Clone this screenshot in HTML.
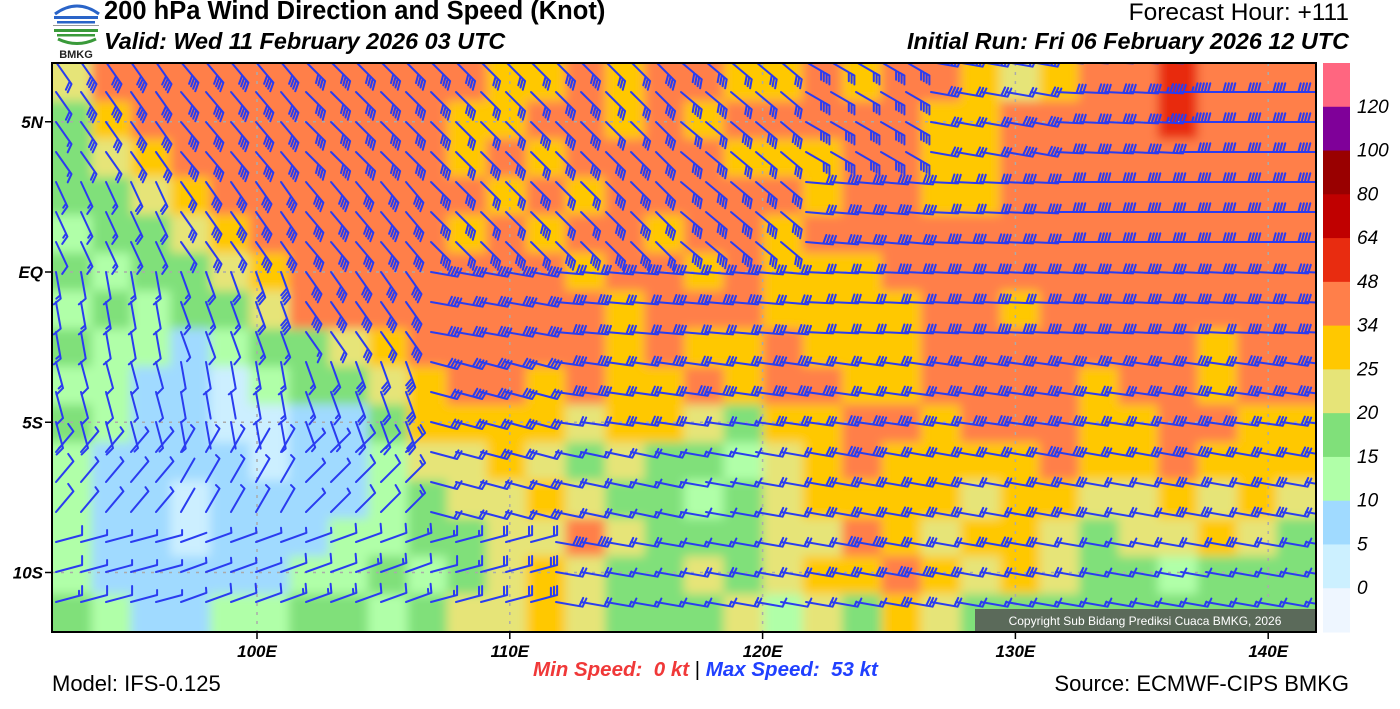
<!DOCTYPE html>
<html><head><meta charset="utf-8">
<style>
html,body{margin:0;padding:0;background:#fff;}
body{width:1400px;height:709px;position:relative;overflow:hidden;font-family:"Liberation Sans",sans-serif;}
.t{position:absolute;white-space:nowrap;color:#000;}
</style></head>
<body>
<svg id="chart" width="1400" height="709" viewBox="0 0 1400 709" style="position:absolute;left:0;top:0">
  <defs>
    <clipPath id="mapclip"><rect x="52" y="63" width="1264" height="569"/></clipPath>
    <filter id="soft" x="-5%" y="-5%" width="110%" height="110%"><feGaussianBlur stdDeviation="5"/></filter>
  </defs>
  <g>
    <path d="M55 14 Q77 -2 99 14" stroke="#2a64c8" stroke-width="3" fill="none"/>
    <rect x="54" y="16" width="44" height="3" fill="#2a64c8"/>
    <rect x="57" y="21" width="38" height="2.5" fill="#2a64c8"/>
    <rect x="53" y="25" width="46" height="1" fill="#999"/>
    <rect x="54" y="29" width="44" height="3" fill="#3a9a3a"/>
    <rect x="57" y="34" width="38" height="2.5" fill="#3a9a3a"/>
    <path d="M58 39 Q77 48 96 39" stroke="#3a9a3a" stroke-width="3" fill="none"/>
    <text x="76" y="58" font-size="11" font-weight="bold" text-anchor="middle" fill="#222" font-family="Liberation Sans, sans-serif">BMKG</text>
  </g>
  <g clip-path="url(#mapclip)">
    <rect x="52" y="63" width="1264" height="569" fill="#ff7f4a"/>
    <g id="field" filter="url(#soft)"></g>
    <g id="grid"></g>
    <g id="barbs"></g>
    <g>
      <rect x="975" y="609" width="341" height="23" fill="#555" fill-opacity="0.85"/>
      <text x="1145" y="625" font-size="12" fill="#fff" text-anchor="middle" font-family="Liberation Sans, sans-serif">Copyright Sub Bidang Prediksi Cuaca BMKG, 2026</text>
    </g>
  </g>
  <rect x="52" y="63" width="1264" height="569" fill="none" stroke="#000" stroke-width="2"/>
  <g id="axes"></g>
  <g id="cbar"></g>
</svg>

<div class="t" style="left:104px;top:-3px;font-size:25.5px;font-weight:bold;">200 hPa Wind Direction and Speed (Knot)</div>
<div class="t" style="left:104px;top:28px;font-size:23.4px;font-weight:bold;font-style:italic;">Valid: Wed 11 February 2026 03 UTC</div>
<div class="t" style="right:51px;top:-1px;font-size:24.5px;">Forecast Hour: +111</div>
<div class="t" style="right:51px;top:28px;font-size:23.4px;font-weight:bold;font-style:italic;">Initial Run: Fri 06 February 2026 12 UTC</div>
<div class="t" style="left:52px;top:671px;font-size:22px;">Model: IFS-0.125</div>
<div class="t" style="right:51px;top:671px;font-size:22px;">Source: ECMWF-CIPS BMKG</div>
<div class="t" style="left:533px;top:658px;font-size:20.5px;font-weight:bold;font-style:italic;">
  <span style="color:#f03838;">Min Speed:&nbsp;&nbsp;0 kt</span>
  <span style="color:#000;font-style:normal;font-weight:normal;">|</span>
  <span style="color:#2040ff;">Max Speed:&nbsp;&nbsp;53 kt</span>
</div>

<script>
// ---- data ----
const speedCats = "abcdefgh";
const catSpeeds = [3, 8, 12, 17, 22, 30, 40, 55];
const catColors = ["#ccefff","#a0daff","#b0ffa8","#80e07a","#e6e478","#ffc800","#ff7f4a","#e82c10"];
const fieldRows = [
 "eggggggggggffgfggffgfggfefgghggg",
 "dfggggggggffggfgfgggggffgggghggg",
 "defgggggggfgfggggfffggffgggggggg",
 "ddefgggggggfgfgggggfggffgggggggg",
 "cddefgggggfgfggfggfggggggggggggg",
 "dcddefgggggggfggfgfffggggggggggg",
 "cdcddeggggggggfgggffffggfggggggg",
 "dccbcddefgggggfgffgfffgggggggfgg",
 "ccbbacddefggfgffgfggffggggfggfgg",
 "dcbbaabbdffffeffedffggfgggffggff",
 "cbbbbabbceefededdcefgffffgffgfff",
 "cbbabbbbcdeefeddcdeffffeffeefefe",
 "cbbabbbccddeegedddeegfeffedeefed",
 "cbbbbbccdcdefeddedeffgfefeddcddd",
 "dcbbccddcdeefedddecedfeddddddddd"
];
const dirAngles = [
 [55, 50, 45, 45, 45, 40, 30, 10, 3, 0],
 [65, 55, 50, 45, 45, 40, 5, 3, 0, 0],
 [80, 70, 55, 10, 5, 5, 3, 3, 3, 3],
 [75, 80, 70, 15, 8, 8, 8, 8, 8, 8],
 [-50, -60, -45, 15, 12, 10, 10, 10, 10, 10],
 [-15, -20, -20, -15, 10, 10, 10, 10, 10, 10]
];
const latLabels = ["5N", "EQ", "5S", "10S"];
const latValues = [5, 0, -5, -10];
const lonLabels = ["100E", "110E", "120E", "130E", "140E"];
const lonValues = [100, 110, 120, 130, 140];
const cbarLabels = ["120","100","80","64","48","34","25","20","15","10","5","0"];
const cbarColors = ["#ff6680","#7f0099","#990000","#c00000","#e82c10","#ff7f4a","#ffc800","#e6e478","#80e07a","#b0ffa8","#a0daff","#ccf0ff","#eef6ff"];

// ---- axes functions ----
const X0 = 52, X1 = 1316, Y0 = 63, Y1 = 632;
const lonToX = lon => 257 + (lon - 100) * 25.28;
const latToY = lat => 272 - lat * 30.05;
const NS = "http://www.w3.org/2000/svg";
function mk(tag, attrs, parent) {
  const e = document.createElementNS(NS, tag);
  for (const k in attrs) e.setAttribute(k, attrs[k]);
  parent.appendChild(e);
  return e;
}

// ---- speed field ----
const field = document.getElementById('field');
const nR = fieldRows.length, nC = 32;
const cw = (X1 - X0) / nC, ch = (Y1 - Y0) / nR;
fieldRows.forEach((row, r) => {
  for (let c = 0; c < nC; c++) {
    const k = speedCats.indexOf(row[c]);
    let x = X0 + c * cw, y = Y0 + r * ch, w = cw + 1, h = ch + 1;
    if (c === 0) { x -= 20; w += 20; }
    if (c === nC - 1) { w += 20; }
    if (r === 0) { y -= 20; h += 20; }
    if (r === nR - 1) { h += 20; }
    const rc = mk('rect', {x: x, y: y, width: w, height: h, fill: catColors[k]}, field);
    
    
  }
});

// ---- graticule ----
const grid = document.getElementById('grid');
lonValues.forEach(v => mk('line', {x1: lonToX(v), x2: lonToX(v), y1: Y0, y2: Y1, stroke: '#aaa', 'stroke-width': 1.5, 'stroke-dasharray': '3 6'}, grid));
latValues.forEach(v => mk('line', {x1: X0, x2: X1, y1: latToY(v), y2: latToY(v), stroke: '#aaa', 'stroke-width': 1.5, 'stroke-dasharray': '3 6'}, grid));

// ---- barbs ----
const barbs = document.getElementById('barbs');
const dC = dirAngles[0].length, dR = dirAngles.length;
function catAt(x, y) {
  const c = Math.min(nC - 1, Math.max(0, Math.floor((x - X0) / cw)));
  const r = Math.min(nR - 1, Math.max(0, Math.floor((y - Y0) / ch)));
  return speedCats.indexOf(fieldRows[r][c]);
}
function dirAt(x, y) {
  const c = Math.min(dC - 1, Math.max(0, Math.floor((x - X0) / ((X1 - X0) / dC))));
  const r = Math.min(dR - 1, Math.max(0, Math.floor((y - Y0) / ((Y1 - Y0) / dR))));
  return dirAngles[r][c];
}
for (let j = -7; j <= 11; j++) {
  const y = 272 + j * 30;
  for (let i = 0; i < 51; i++) {
    const x = 56 + i * 25;
    const spd = catSpeeds[catAt(x + 12, y)];
    const deg = dirAt(x + 12, y);
    const ang = deg * Math.PI / 180;
    const L = 27;
    const tx = x + L * Math.cos(ang), ty = y + L * Math.sin(ang);
    let d = `M${x.toFixed(1)} ${y.toFixed(1)}L${tx.toFixed(1)} ${ty.toFixed(1)}`;
    const fa = ang + (deg >= 30 ? 60 : -75) * Math.PI / 180;
    const full = Math.floor(spd / 10), half = (spd % 10) >= 5 ? 1 : 0;
    const ux = Math.cos(ang), uy = Math.sin(ang);
    let n = 0;
    for (let f = 0; f < full; f++, n++) {
      const bx = tx - ux * 3.2 * n, by = ty - uy * 3.2 * n;
      d += `M${bx.toFixed(1)} ${by.toFixed(1)}l${(9 * Math.cos(fa)).toFixed(1)} ${(9 * Math.sin(fa)).toFixed(1)}`;
    }
    if (half) {
      const bx = tx - ux * 3.2 * n, by = ty - uy * 3.2 * n;
      d += `M${bx.toFixed(1)} ${by.toFixed(1)}l${(5 * Math.cos(fa)).toFixed(1)} ${(5 * Math.sin(fa)).toFixed(1)}`;
    }
    const p = mk('path', {d: d, stroke: '#2a3cf0', 'stroke-width': 2, fill: 'none', 'stroke-linecap': 'round'}, barbs);
    
    
  }
}

// ---- axes ----
const axes = document.getElementById('axes');
latLabels.forEach((lab, i) => {
  const y = latToY(latValues[i]);
  mk('line', {x1: 45, x2: 52, y1: y, y2: y, stroke: '#000', 'stroke-width': 1.5}, axes);
  const t = mk('text', {x: 43, y: y + 6, 'text-anchor': 'end', 'font-size': 17, 'font-style': 'italic', 'font-weight': 'bold', 'font-family': 'Liberation Sans, sans-serif'}, axes);
  t.textContent = lab;
  
  
});
lonLabels.forEach((lab, i) => {
  const x = lonToX(lonValues[i]);
  mk('line', {x1: x, x2: x, y1: 632, y2: 639, stroke: '#000', 'stroke-width': 1.5}, axes);
  const t = mk('text', {x: x, y: 657, 'text-anchor': 'middle', 'font-size': 17, 'font-style': 'italic', 'font-weight': 'bold', 'font-family': 'Liberation Sans, sans-serif'}, axes);
  t.textContent = lab;
  
  
});

// ---- colorbar ----
const cbar = document.getElementById('cbar');
const segH = (Y1 - Y0) / cbarColors.length;
cbarColors.forEach((col, i) => {
  const r = mk('rect', {x: 1323, y: Y0 + i * segH, width: 27, height: segH + 0.5, fill: col}, cbar);
  
  
});
cbarLabels.forEach((lab, i) => {
  const t = mk('text', {x: 1357, y: Y0 + (i + 1) * segH + 6, 'font-size': 19, 'font-style': 'italic', 'font-family': 'Liberation Sans, sans-serif'}, cbar);
  t.textContent = lab;
  
  
});
</script>
</body></html>
